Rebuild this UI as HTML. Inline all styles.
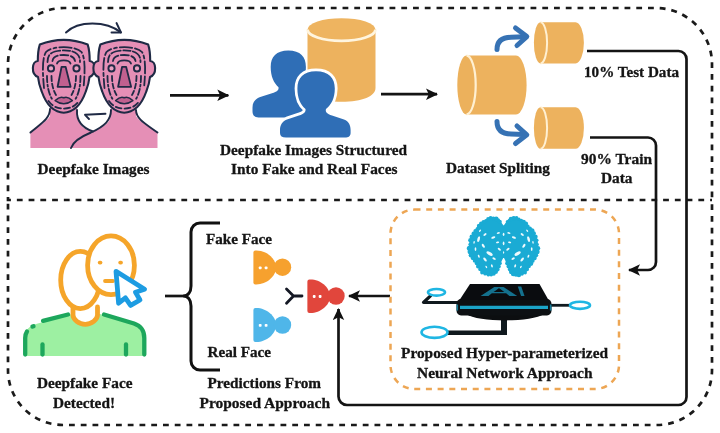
<!DOCTYPE html>
<html><head><meta charset="utf-8"><title>Deepfake detection pipeline</title>
<style>
html,body{margin:0;padding:0;background:#fff;}
svg{display:block;filter:blur(0.45px);}
text{font-family:"Liberation Serif",serif;font-weight:bold;font-size:15.6px;fill:#141414;stroke:#141414;stroke-width:0.3px;}
</style></head>
<body>
<svg width="720" height="433" viewBox="0 0 720 433">
<defs>
<marker id="ah" viewBox="0 0 12 12" refX="11" refY="6" markerWidth="12" markerHeight="12" markerUnits="userSpaceOnUse" orient="auto">
<path d="M0,0.3 L12,6 L0,11.7 L2.8,6 Z" fill="#111"/>
</marker>
</defs>
<rect width="720" height="433" fill="#fff"/>

<!-- OUTER DASHED FRAME -->
<g id="frame" fill="none" stroke="#1a1a1a" stroke-width="2.7" stroke-dasharray="5.8 5.95">
<path d="M712,200 H8 V64 A56,56 0 0 1 64,8 H656 A56,56 0 0 1 712,64 V200" stroke-dashoffset="3.9"/>
<path d="M8,200 V370 A55,55 0 0 0 63,425 H657 A55,55 0 0 0 712,370 V200" stroke-dashoffset="8"/>
</g>

<!-- CONNECTOR LINES -->
<g id="lines" fill="none" stroke="#141414" stroke-width="2.7" stroke-linejoin="round">
<path d="M170,95.3 H228.3" marker-end="url(#ah)"/>
<path d="M381,94.2 H437" marker-end="url(#ah)"/>
<path d="M587,51 H678.5 A8,8 0 0 1 686.5,59 V397 A8,8 0 0 1 678.5,405 H347 A8.5,8.5 0 0 1 338.5,396.5 V309" marker-end="url(#ah)"/>
<path d="M590,137.5 H648 A8,8 0 0 1 656,145.5 V262 A8,8 0 0 1 648,270 H629" marker-end="url(#ah)"/>
<path d="M390,296 H349" marker-end="url(#ah)"/>
<path d="M165,296 H183"/>
</g>

<!-- SECTION PLACEHOLDERS -->
<g id="faces">
<!-- bodies -->
<path d="M30.4,148 V133 C36,127 47,122 50,116 L50,104 H77 L77.5,118 C79,126 86,130 93,131.5 C102,128 108,124 110,119 L111,104 H136 L136,116 C140,123 151,127 157.5,133 V148 Z" fill="#E58FB6"/>
<g fill="none" stroke="#1F2A45" stroke-width="1.9" stroke-linecap="round" stroke-linejoin="round">
<path d="M50,109 C50,119 40,124 30.4,132.5"/>
<path d="M77,110 C76.5,118 80,127 93,131.5"/>
<path d="M111,110 C111,120 105,126 91,132.5 C80,137 73,142 71,148"/>
<path d="M136,110 C136,119 146,124 157.5,132.5"/>
<path d="M105.5,113.7 L85,114.8 L89,119"/>
<path d="M66,32.5 C78,20.5 106,20.5 121,32.5"/>
<path d="M116.5,23 L121,32.5 L111.5,32.5"/>
</g>
<path d="M39.8,44.6 Q63.75,35.2 87.7,44.6 C89.5,50 89.7,56 89.7,61 C95.8,61 96.8,74.5 89.5,77 C88.8,84 87.2,88 85.8,91.5 C83.5,98 80.5,103.5 76.5,107.3 C72,111.3 67,112.7 63.75,112.7 C60.5,112.7 55.5,111.3 51,107.3 C47,103.5 44,98 41.7,91.5 C40.3,88 38.7,84 38,77 C30.7,74.5 31.7,61 37.8,61 C37.8,56 38,50 39.8,44.6 Z" fill="#E58FB6" stroke="#1F2A45" stroke-width="2.1" stroke-linejoin="round"/>
<g fill="none" stroke="#1F2A45" stroke-width="1.8" stroke-linecap="round">
<path d="M44,88 C42.3,70 42.3,58 46,52 C52,45.5 75.5,45.5 81.5,52 C85.2,58 85.2,70 83.5,88" stroke-dasharray="9 3 3 3 12 3"/>
<path d="M47.5,62 C47.5,56 50,53 55,51.5 C60,50 67.5,50 72.5,51.5 C77.5,53 80,56 80,62" stroke-dasharray="7 2.5 10 2.5"/>
<path d="M52.5,61 C53,57 57,55 63.75,55 C70.5,55 74.5,57 75,61" stroke-dasharray="8 2.5"/>
<path d="M57,63.5 C58,59.3 69.5,59.3 70.5,63.5" />
<path d="M47,76 C47,85 48.5,93 52,99" stroke-dasharray="6 2.5 2 2.5"/>
<path d="M80.5,76 C80.5,85 79,93 75.5,99" stroke-dasharray="6 2.5 2 2.5"/>
<path d="M51.5,76 C51.5,83 53,90 56,95" stroke-dasharray="5 2.5"/>
<path d="M76,76 C76,83 74.5,90 71.5,95" stroke-dasharray="5 2.5"/>
<path d="M48.5,101 C52,106 57,108.6 63.75,108.6 C70.5,108.6 75.5,106 79,101" stroke-dasharray="6 3"/>
</g>
<circle cx="51" cy="68.4" r="3.1" fill="#E9A3C3" stroke="#1F2A45" stroke-width="1.9"/>
<circle cx="76.5" cy="68.4" r="3.1" fill="#E9A3C3" stroke="#1F2A45" stroke-width="1.9"/>
<path d="M61.6,66.8 H65.6 L70.6,86.8 H57.6 Z" fill="#C0608F" stroke="#1F2A45" stroke-width="1.8" stroke-linejoin="round"/>
<path d="M55.2,100.6 Q59.8,96 63.75,97.8 Q67.7,96 72.3,100.6 Q63.75,107 55.2,100.6 Z" fill="#C0608F" stroke="#1F2A45" stroke-width="1.6" stroke-linejoin="round"/>
<path d="M100.3,44.6 Q124.25,35.2 148.2,44.6 C150.0,50 150.2,56 150.2,61 C156.3,61 157.3,74.5 150.0,77 C149.3,84 147.7,88 146.3,91.5 C144.0,98 141.0,103.5 137.0,107.3 C132.5,111.3 127.5,112.7 124.25,112.7 C121.0,112.7 116.0,111.3 111.5,107.3 C107.5,103.5 104.5,98 102.2,91.5 C100.8,88 99.2,84 98.5,77 C91.2,74.5 92.2,61 98.3,61 C98.3,56 98.5,50 100.3,44.6 Z" fill="#E58FB6" stroke="#1F2A45" stroke-width="2.1" stroke-linejoin="round"/>
<g fill="none" stroke="#1F2A45" stroke-width="1.8" stroke-linecap="round">
<path d="M104.5,88 C102.8,70 102.8,58 106.5,52 C112.5,45.5 136.0,45.5 142.0,52 C145.7,58 145.7,70 144.0,88" stroke-dasharray="9 3 3 3 12 3"/>
<path d="M108.0,62 C108.0,56 110.5,53 115.5,51.5 C120.5,50 128.0,50 133.0,51.5 C138.0,53 140.5,56 140.5,62" stroke-dasharray="7 2.5 10 2.5"/>
<path d="M113.0,61 C113.5,57 117.5,55 124.25,55 C131.0,55 135.0,57 135.5,61" stroke-dasharray="8 2.5"/>
<path d="M117.5,63.5 C118.5,59.3 130.0,59.3 131.0,63.5" />
<path d="M107.5,76 C107.5,85 109.0,93 112.5,99" stroke-dasharray="6 2.5 2 2.5"/>
<path d="M141.0,76 C141.0,85 139.5,93 136.0,99" stroke-dasharray="6 2.5 2 2.5"/>
<path d="M112.0,76 C112.0,83 113.5,90 116.5,95" stroke-dasharray="5 2.5"/>
<path d="M136.5,76 C136.5,83 135.0,90 132.0,95" stroke-dasharray="5 2.5"/>
<path d="M109.0,101 C112.5,106 117.5,108.6 124.25,108.6 C131.0,108.6 136.0,106 139.5,101" stroke-dasharray="6 3"/>
</g>
<circle cx="111.5" cy="68.4" r="3.1" fill="#E9A3C3" stroke="#1F2A45" stroke-width="1.9"/>
<circle cx="137.0" cy="68.4" r="3.1" fill="#E9A3C3" stroke="#1F2A45" stroke-width="1.9"/>
<path d="M122.1,66.8 H126.1 L131.1,86.8 H118.1 Z" fill="#C0608F" stroke="#1F2A45" stroke-width="1.8" stroke-linejoin="round"/>
<path d="M115.7,100.6 Q120.3,96 124.25,97.8 Q128.2,96 132.8,100.6 Q124.25,107 115.7,100.6 Z" fill="#C0608F" stroke="#1F2A45" stroke-width="1.6" stroke-linejoin="round"/>
</g>
<g id="people">
<!-- vertical cylinder -->
<path d="M307.5,29.5 V88 C307.5,96 320.5,101.8 341.5,101.8 C362.5,101.8 375.5,96 375.5,88 V29.5 Z" fill="#EDB25E"/>
<ellipse cx="341.5" cy="29.5" rx="34" ry="11.3" fill="#EEB460"/>
<path d="M307.5,29.5 A34,11.3 0 0 0 375.5,29.5" fill="none" stroke="#FFF5DF" stroke-width="2.8"/>
<!-- back person -->
<path d="M287.3,49.8 C299.5,49.8 304.9,56 304.9,66.3 C304.9,76 302,82 297.5,86.5 C297,89.5 299,91.5 304,93 L322,99 L322,116.6 L257.5,116.6 C253.5,116.6 251.5,114.5 251.5,110.5 V107 C251.5,101.5 254,98 260,96 L271,92.5 C276,91 278,89.5 277.5,86.5 C272.8,82 269.7,76 269.7,66.3 C269.7,56 275.2,49.8 287.3,49.8 Z" fill="#2F6EB6" transform="translate(1,0.8)"/>
<!-- front person -->
<path d="M316,71.3 C328.8,71.3 334.8,78 334.8,88.5 C334.8,98 331.5,104.5 326,109 C325,112 327,114 332,115.5 L344,119.5 C349,121.5 350.6,125.5 350.6,130 V133 C350.6,136 348.5,137.6 345,137.6 L286,137.6 C282,137.6 280,136 280,133 V130 C280,125.5 282,121.5 287,119.5 L299,115.5 C304,114 306,112 305.5,109 C300.3,104.5 297.4,98 297.4,88.5 C297.4,78 303.3,71.3 316,71.3 Z" fill="#2F6EB6" stroke="#fff" stroke-width="5.6" stroke-linejoin="round" paint-order="stroke"/>
</g>
<g id="split">
<!-- big horizontal cylinder -->
<path d="M466.5,55.6 H516 A10.6,29.4 0 0 1 516,114.4 H466.5 Z" fill="#EDB25E"/>
<ellipse cx="466.5" cy="85" rx="9.2" ry="29.4" fill="#ECB15C"/>
<path d="M466.5,55.6 A9.2,29.4 0 0 1 466.5,114.4" fill="none" stroke="#FFF0D2" stroke-width="2.2"/>
<!-- small top -->
<path d="M540.5,22.2 H575.5 A8.4,20.6 0 0 1 575.5,63.4 H540.5 Z" fill="#EDB25E"/>
<ellipse cx="540.5" cy="42.8" rx="6.6" ry="20.6" fill="#ECB15C"/>
<path d="M540.5,22.2 A6.6,20.6 0 0 1 540.5,63.4" fill="none" stroke="#FFF0D2" stroke-width="2"/>
<!-- small bottom -->
<path d="M540.5,107.2 H575.5 A8.4,20.8 0 0 1 575.5,148.8 H540.5 Z" fill="#EDB25E"/>
<ellipse cx="540.5" cy="128" rx="6.6" ry="20.8" fill="#ECB15C"/>
<path d="M540.5,107.2 A6.6,20.8 0 0 1 540.5,148.8" fill="none" stroke="#FFF0D2" stroke-width="2"/>
<!-- blue arrows -->
<g fill="none" stroke="#3672B4" stroke-width="5" stroke-linecap="round" stroke-linejoin="round">
<path d="M497,49.5 C497,41 502,37.5 511,37.3 L524,36.8"/>
<path d="M515.5,28 L526.8,36.6 L517,45.5"/>
<path d="M497,121.5 C497,130 502,133.8 511,134 L524,134.6"/>
<path d="M517,126 L526.8,134.8 L515.5,143.5"/>
</g>
</g>
<g id="detected">
<!-- body -->
<path d="M25,356 V338 C25,330 29,326 36,324 L72,314 H100 L134,324 C141,326 145,330 145,338 V356 Z" fill="#9DF0A2"/>
<g fill="none" stroke="#1DA75C" stroke-width="4.3" stroke-linecap="round" stroke-linejoin="round">
<path d="M43,320.8 L68,314.5"/>
<path d="M32.5,326.6 L33.5,326.2"/>
<path d="M25.2,354.5 V338 C25.2,335 26,333 27,331.5"/>
<path d="M104,314.5 L134,323.5 C141,326 144.3,330 144.3,338 V354.5"/>
<path d="M42.5,344.5 V354.5"/>
<path d="M126,344.5 V354.5"/>
</g>
<!-- neck -->
<path d="M73,304 V315 C73,319.5 79,324 85.2,324 C91.5,324 97.5,319.5 97.5,315 V300 Z" fill="#fff"/>
<path d="M73,306 V315 C73,319.5 79,324.3 85.2,324.3 C91.5,324.3 97.5,319.5 97.5,315 V307" fill="none" stroke="#F5A52A" stroke-width="4.8" stroke-linecap="round"/>
<!-- back head -->
<ellipse cx="80.3" cy="280" rx="19.6" ry="28.6" fill="#fff" stroke="#F5A52A" stroke-width="4.8"/>
<!-- front face -->
<ellipse cx="111" cy="265.3" rx="23.4" ry="29.4" fill="#fff" stroke="#F5A52A" stroke-width="4.8"/>
<g stroke="#F5A52A" stroke-width="3.8" stroke-linecap="round">
<path d="M99.7,262.6 H100.5"/>
<path d="M120.2,262.6 H121"/>
<path d="M105,281 H113"/>
</g>
<!-- cursor -->
<path d="M116,271.3 L144.6,289.3 L135.5,292.2 L140,300 L130.6,305.4 L125.4,297.8 L118.6,303.2 Z" fill="#fff" stroke="#1D9CE2" stroke-width="4.8" stroke-linejoin="round"/>
</g>
<g id="pred">
<path d="M220,223 H200 A9,9 0 0 0 191,232 V286 C191,292 188,296 183,296 C188,296 191,300 191,306 V361 A9,9 0 0 0 200,370 H220" fill="none" stroke="#111" stroke-width="3"/>
<path d="M255.4,250.6 H256.4 C266.4,250.6 276.0,258.5 276.0,267.5 C276.0,276.5 266.4,284.4 256.4,284.4 H255.4 Q253.4,284.4 253.4,282.4 V252.6 Q253.4,250.6 255.4,250.6 Z" fill="#F6A12E"/><circle cx="282.5" cy="267.2" r="8.7" fill="#F6A12E"/><rect x="258.8" y="266.4" width="2.8" height="2.8" rx="0.8" fill="#fff"/><rect x="264.7" y="266.4" width="2.8" height="2.8" rx="0.8" fill="#fff"/>
<path d="M255.4,308 H256.4 C266.4,308 276.0,316.0 276.0,325.0 C276.0,334.0 266.4,342 256.4,342 H255.4 Q253.4,342 253.4,340 V310 Q253.4,308 255.4,308 Z" fill="#4FB6E9"/><circle cx="282.5" cy="325" r="8.7" fill="#4FB6E9"/><rect x="258.8" y="323.9" width="2.8" height="2.8" rx="0.8" fill="#fff"/><rect x="264.7" y="323.9" width="2.8" height="2.8" rx="0.8" fill="#fff"/>
<path d="M309.4,279.4 H310.4 C320.4,279.4 330.0,287.2 330.0,296.2 C330.0,305.2 320.4,313 310.4,313 H309.4 Q307.4,313 307.4,311 V281.4 Q307.4,279.4 309.4,279.4 Z" fill="#E1463C"/><circle cx="336" cy="296" r="8.7" fill="#E1463C"/><rect x="312.8" y="295.1" width="2.8" height="2.8" rx="0.8" fill="#fff"/><rect x="318.7" y="295.1" width="2.8" height="2.8" rx="0.8" fill="#fff"/>
<path d="M286.5,289 L293.5,296 L286.5,303.3 M293.5,296 H302" fill="none" stroke="#141824" stroke-width="2.8" stroke-linecap="round" stroke-linejoin="round"/>
</g>
<g id="nn">
<rect x="390.5" y="209.6" width="228.5" height="179.4" rx="24" ry="24" fill="none" stroke="#EDA654" stroke-width="2.5" stroke-dasharray="6 5.7"/>
<g id="brain">
<g fill="#1AABD4"><path d="M503.6,226.9 L499.8,221.7 L496.2,219.0 L490.6,217.9 L485.9,220.6 L481.1,223.7 L477.2,228.5 L473.2,233.2 L470.4,240.3 L469.3,248.2 L470.9,255.3 L474.5,260.9 L478.0,266.4 L481.9,272.7 L488.3,275.1 L493.8,273.8 L497.6,269.6 L499.8,263.2 L503.6,255.3 L507.4,263.2 L509.6,269.6 L513.4,273.8 L518.9,275.1 L525.2,272.7 L529.2,266.4 L532.7,260.9 L536.3,255.3 L537.9,248.2 L536.8,240.3 L533.9,233.2 L530.0,228.5 L526.0,223.7 L521.3,220.6 L516.6,217.9 L511.0,219.0 L507.4,221.7 Z" stroke="#1AABD4" stroke-width="1.5" stroke-linejoin="round"/><circle cx="499.8" cy="221.7" r="2.0"/><circle cx="498.0" cy="220.3" r="2.1"/><circle cx="496.2" cy="219.0" r="2.4"/><circle cx="493.4" cy="218.4" r="2.0"/><circle cx="490.6" cy="217.9" r="2.0"/><circle cx="488.2" cy="219.2" r="2.1"/><circle cx="485.9" cy="220.6" r="1.7"/><circle cx="483.5" cy="222.1" r="2.0"/><circle cx="481.1" cy="223.7" r="2.1"/><circle cx="479.1" cy="226.1" r="2.3"/><circle cx="477.2" cy="228.5" r="1.6"/><circle cx="475.2" cy="230.8" r="1.8"/><circle cx="473.2" cy="233.2" r="1.6"/><circle cx="471.8" cy="236.8" r="2.3"/><circle cx="470.4" cy="240.3" r="2.2"/><circle cx="469.9" cy="244.2" r="1.5"/><circle cx="469.3" cy="248.2" r="2.5"/><circle cx="470.1" cy="251.8" r="2.5"/><circle cx="470.9" cy="255.3" r="2.2"/><circle cx="472.7" cy="258.1" r="2.1"/><circle cx="474.5" cy="260.9" r="1.7"/><circle cx="476.2" cy="263.6" r="1.5"/><circle cx="478.0" cy="266.4" r="2.0"/><circle cx="479.9" cy="269.5" r="1.6"/><circle cx="481.9" cy="272.7" r="1.7"/><circle cx="485.1" cy="273.9" r="1.7"/><circle cx="488.3" cy="275.1" r="1.5"/><circle cx="491.1" cy="274.5" r="2.0"/><circle cx="493.8" cy="273.8" r="1.9"/><circle cx="495.7" cy="271.7" r="2.3"/><circle cx="497.6" cy="269.6" r="2.0"/><circle cx="498.7" cy="266.4" r="2.1"/><circle cx="499.8" cy="263.2" r="2.0"/><circle cx="507.4" cy="263.2" r="2.2"/><circle cx="508.5" cy="266.4" r="2.0"/><circle cx="509.6" cy="269.6" r="1.8"/><circle cx="511.5" cy="271.7" r="2.5"/><circle cx="513.4" cy="273.8" r="2.5"/><circle cx="516.1" cy="274.5" r="2.3"/><circle cx="518.9" cy="275.1" r="2.2"/><circle cx="522.0" cy="273.9" r="1.8"/><circle cx="525.2" cy="272.7" r="1.7"/><circle cx="527.2" cy="269.5" r="1.8"/><circle cx="529.2" cy="266.4" r="1.6"/><circle cx="531.0" cy="263.6" r="2.3"/><circle cx="532.7" cy="260.9" r="1.9"/><circle cx="534.5" cy="258.1" r="2.3"/><circle cx="536.3" cy="255.3" r="1.9"/><circle cx="537.1" cy="251.8" r="2.5"/><circle cx="537.9" cy="248.2" r="2.3"/><circle cx="537.3" cy="244.2" r="1.5"/><circle cx="536.8" cy="240.3" r="1.7"/><circle cx="535.3" cy="236.8" r="2.4"/><circle cx="533.9" cy="233.2" r="2.0"/><circle cx="532.0" cy="230.8" r="2.5"/><circle cx="530.0" cy="228.5" r="1.9"/><circle cx="528.0" cy="226.1" r="1.6"/><circle cx="526.0" cy="223.7" r="2.1"/><circle cx="523.6" cy="222.1" r="2.3"/><circle cx="521.3" cy="220.6" r="1.8"/><circle cx="519.0" cy="219.2" r="1.6"/><circle cx="516.6" cy="217.9" r="1.8"/><circle cx="513.8" cy="218.4" r="2.5"/><circle cx="511.0" cy="219.0" r="2.3"/><circle cx="509.2" cy="220.3" r="1.6"/><circle cx="507.4" cy="221.7" r="1.7"/></g>
<g fill="#EEF9FD"><ellipse cx="478.6" cy="239.1" rx="1.27" ry="3.00" transform="rotate(15 478.6 239.1)"/><ellipse cx="528.6" cy="239.1" rx="1.27" ry="3.00" transform="rotate(-15 528.6 239.1)"/><ellipse cx="485.0" cy="234.6" rx="0.99" ry="1.87" transform="rotate(50 485.0 234.6)"/><ellipse cx="522.2" cy="234.6" rx="0.99" ry="1.87" transform="rotate(-50 522.2 234.6)"/><ellipse cx="493.3" cy="237.5" rx="0.99" ry="2.12" transform="rotate(70 493.3 237.5)"/><ellipse cx="513.9" cy="237.5" rx="0.99" ry="2.12" transform="rotate(-70 513.9 237.5)"/><ellipse cx="483.3" cy="245.8" rx="1.13" ry="2.25" transform="rotate(-35 483.3 245.8)"/><ellipse cx="523.9" cy="245.8" rx="1.13" ry="2.25" transform="rotate(35 523.9 245.8)"/><ellipse cx="489.6" cy="253.6" rx="1.56" ry="3.49" transform="rotate(-60 489.6 253.6)"/><ellipse cx="517.6" cy="253.6" rx="1.56" ry="3.49" transform="rotate(60 517.6 253.6)"/><ellipse cx="485.0" cy="259.6" rx="1.13" ry="2.37" transform="rotate(-40 485.0 259.6)"/><ellipse cx="522.2" cy="259.6" rx="1.13" ry="2.37" transform="rotate(40 522.2 259.6)"/><ellipse cx="494.1" cy="258.6" rx="0.99" ry="1.87" transform="rotate(-60 494.1 258.6)"/><ellipse cx="513.1" cy="258.6" rx="0.99" ry="1.87" transform="rotate(60 513.1 258.6)"/><ellipse cx="499.3" cy="249.3" rx="0.99" ry="1.87" transform="rotate(-50 499.3 249.3)"/><ellipse cx="507.9" cy="249.3" rx="0.99" ry="1.87" transform="rotate(50 507.9 249.3)"/><ellipse cx="497.6" cy="242.4" rx="0.85" ry="1.62" transform="rotate(75 497.6 242.4)"/><ellipse cx="509.6" cy="242.4" rx="0.85" ry="1.62" transform="rotate(-75 509.6 242.4)"/><ellipse cx="475.5" cy="249.1" rx="0.85" ry="1.87" transform="rotate(0 475.5 249.1)"/><ellipse cx="531.7" cy="249.1" rx="0.85" ry="1.87" transform="rotate(0 531.7 249.1)"/><ellipse cx="478.8" cy="256.3" rx="0.85" ry="1.62" transform="rotate(-20 478.8 256.3)"/><ellipse cx="528.4" cy="256.3" rx="0.85" ry="1.62" transform="rotate(20 528.4 256.3)"/><ellipse cx="491.9" cy="265.9" rx="0.85" ry="1.62" transform="rotate(-20 491.9 265.9)"/><ellipse cx="515.2" cy="265.9" rx="0.85" ry="1.62" transform="rotate(20 515.2 265.9)"/><ellipse cx="486.3" cy="266.9" rx="0.71" ry="1.37" transform="rotate(-30 486.3 266.9)"/><ellipse cx="520.9" cy="266.9" rx="0.71" ry="1.37" transform="rotate(30 520.9 266.9)"/><ellipse cx="498.3" cy="233.0" rx="0.85" ry="1.62" transform="rotate(80 498.3 233.0)"/><ellipse cx="508.9" cy="233.0" rx="0.85" ry="1.62" transform="rotate(-80 508.9 233.0)"/><ellipse cx="480.0" cy="230.8" rx="0.71" ry="1.37" transform="rotate(40 480.0 230.8)"/><ellipse cx="527.2" cy="230.8" rx="0.71" ry="1.37" transform="rotate(-40 527.2 230.8)"/><ellipse cx="474.1" cy="242.4" rx="0.71" ry="1.37" transform="rotate(10 474.1 242.4)"/><ellipse cx="533.0" cy="242.4" rx="0.71" ry="1.37" transform="rotate(-10 533.0 242.4)"/><ellipse cx="503.6" cy="234.3" rx="0.85" ry="1.62" transform="rotate(0 503.6 234.3)"/><ellipse cx="503.6" cy="243.3" rx="0.85" ry="1.87" transform="rotate(0 503.6 243.3)"/><ellipse cx="503.6" cy="252.4" rx="0.57" ry="1.25" transform="rotate(0 503.6 252.4)"/></g>
</g>
<!-- circuits -->
<g fill="none" stroke="#10191E" stroke-linejoin="round">
<path d="M431,295.3 L423.5,302.5 H458" stroke-width="3.2"/>
<path d="M549,305.3 H571" stroke-width="2.8"/>
<path d="M447,332.8 H506.5" stroke-width="4.6"/>
<path d="M504,335 V317" stroke-width="6"/>
</g>
<g fill="none" stroke="#1FB6E3" stroke-width="2.6">
<ellipse cx="436.5" cy="292.3" rx="8.5" ry="3.3"/>
<ellipse cx="580" cy="305.3" rx="10" ry="3.6"/>
<ellipse cx="434.5" cy="332.3" rx="13" ry="5.6"/>
</g>
<!-- chip -->
<path d="M466,314 C478,322.5 532,322.5 544,314 Z" fill="#0C0E10"/>
<rect x="456.5" y="299" width="95" height="16.4" rx="4.5" ry="5" fill="#0D1013"/>
<path d="M470,284 H539.5 L548.5,300 H459.5 Z" fill="#0A0C0F"/>
<path d="M460,307.3 H548" stroke="#1BA5C9" stroke-width="3.2" fill="none"/>
<path d="M457.3,304.5 V310.5 M550.7,304.5 V310.5" stroke="#157E9B" stroke-width="1.6" fill="none"/>
<g style="font-family:'Liberation Sans',sans-serif;font-weight:bold;font-size:14px;fill:#14718E">
<text x="0" y="0" transform="matrix(3.9,0,0,0.95,479.3,296.3)" style="font-family:'Liberation Sans',sans-serif;font-weight:bold;font-size:14px;fill:#14718E;stroke:none">A</text>
<text x="0" y="0" transform="matrix(1.7,0,0.34,0.98,519.6,296.3)" style="font-family:'Liberation Sans',sans-serif;font-weight:bold;font-size:14px;fill:#14718E;stroke:none">I</text>
</g>
</g>

<!-- TEXT -->
<g id="labels">
<text x="37.5" y="173.7" textLength="112" lengthAdjust="spacingAndGlyphs">Deepfake Images</text>
<text x="220" y="154.5" textLength="187" lengthAdjust="spacingAndGlyphs">Deepfake Images Structured</text>
<text x="231" y="173.7" textLength="166.5" lengthAdjust="spacingAndGlyphs">Into Fake and Real Faces</text>
<text x="446" y="173" textLength="104" lengthAdjust="spacingAndGlyphs">Dataset Spliting</text>
<text x="584" y="77" textLength="95" lengthAdjust="spacingAndGlyphs">10% Test Data</text>
<text x="581" y="164" textLength="71" lengthAdjust="spacingAndGlyphs">90% Train</text>
<text x="601" y="183" textLength="31.5" lengthAdjust="spacingAndGlyphs">Data</text>
<text x="206" y="244" textLength="66" lengthAdjust="spacingAndGlyphs">Fake Face</text>
<text x="207.5" y="357" textLength="63.5" lengthAdjust="spacingAndGlyphs">Real Face</text>
<text x="207.5" y="388" textLength="113.5" lengthAdjust="spacingAndGlyphs">Predictions From</text>
<text x="199.5" y="407.5" textLength="130.5" lengthAdjust="spacingAndGlyphs">Proposed Approach</text>
<text x="37" y="387.5" textLength="95.5" lengthAdjust="spacingAndGlyphs">Deepfake Face</text>
<text x="53" y="407.5" textLength="62" lengthAdjust="spacingAndGlyphs">Detected!</text>
<text x="401" y="357.5" textLength="207" lengthAdjust="spacingAndGlyphs">Proposed Hyper-parameterized</text>
<text x="417" y="377.5" textLength="175.5" lengthAdjust="spacingAndGlyphs">Neural Network Approach</text>
</g>
</svg>
</body></html>
